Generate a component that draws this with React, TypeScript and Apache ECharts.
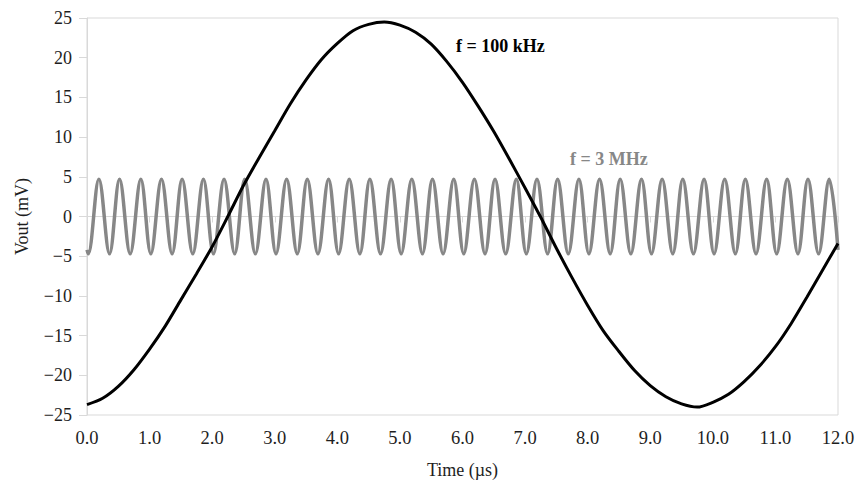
import React, { useEffect, useRef } from "react";
import * as echarts from "echarts";

// 100 kHz trace (black), every 0.25 µs
const slowTimes = [
  0, 0.25, 0.5, 0.75, 1, 1.25, 1.5, 1.75, 2, 2.25, 2.5, 2.75,
  3, 3.25, 3.5, 3.75, 4, 4.25, 4.5, 4.75, 5, 5.25, 5.5, 5.75,
  6, 6.25, 6.5, 6.75, 7, 7.25, 7.5, 7.75, 8, 8.25, 8.5, 8.75,
  9, 9.25, 9.5, 9.75, 10, 10.25, 10.5, 10.75, 11, 11.25, 11.5, 11.75, 12,
];
const slowValues = [
  -23.7, -22.9, -21.4, -19.3, -16.7, -13.8, -10.5, -7.2, -3.8, 0.0, 3.9, 7.4,
  10.8, 14.2, 17.2, 19.8, 21.8, 23.4, 24.2, 24.5, 24.1, 23.2, 21.7, 19.5,
  16.9, 13.9, 10.7, 7.2, 3.6, -0.1, -4.0, -7.7, -11.2, -14.4, -17.0, -19.4,
  -21.3, -22.7, -23.6, -24.0, -23.4, -22.4, -20.8, -18.8, -16.4, -13.5, -10.2, -6.8, -3.4,
];

// 3 MHz trace (gray): start, peaks/troughs, end
const fastTimes = [
  0,
  0.02, 0.19, 0.36, 0.52, 0.69, 0.86,
  1.02, 1.19, 1.36, 1.52, 1.69, 1.86,
  2.02, 2.19, 2.36, 2.52, 2.69, 2.86,
  3.02, 3.19, 3.36, 3.52, 3.69, 3.86,
  4.02, 4.19, 4.36, 4.52, 4.69, 4.86,
  5.02, 5.19, 5.36, 5.52, 5.69, 5.86,
  6.02, 6.19, 6.36, 6.52, 6.69, 6.86,
  7.02, 7.19, 7.36, 7.52, 7.69, 7.86,
  8.02, 8.19, 8.36, 8.52, 8.69, 8.86,
  9.02, 9.19, 9.36, 9.52, 9.69, 9.86,
  10.02, 10.19, 10.36, 10.52, 10.69, 10.86,
  11.02, 11.19, 11.36, 11.52, 11.69, 11.86,
  12,
];
const fastValues = [
  -4.2,
  -4.7, 4.7, -4.7, 4.7, -4.7, 4.7,
  -4.7, 4.7, -4.7, 4.7, -4.7, 4.7,
  -4.7, 4.7, -4.7, 4.7, -4.7, 4.7,
  -4.7, 4.7, -4.7, 4.7, -4.7, 4.7,
  -4.7, 4.7, -4.7, 4.7, -4.7, 4.7,
  -4.7, 4.7, -4.7, 4.7, -4.7, 4.7,
  -4.7, 4.7, -4.7, 4.7, -4.7, 4.7,
  -4.7, 4.7, -4.7, 4.7, -4.7, 4.7,
  -4.7, 4.7, -4.7, 4.7, -4.7, 4.7,
  -4.7, 4.7, -4.7, 4.7, -4.7, 4.7,
  -4.7, 4.7, -4.7, 4.7, -4.7, 4.7,
  -4.7, 4.7, -4.7, 4.7, -4.7, 4.7,
  -4.2,
];

const xMin = 0, xMax = 12, xStep = 1;
const yMin = -25, yMax = 25, yStep = 5;
const xTitle = "Time (µs)";
const yTitle = "Vout (mV)";
const slowLabel = "f = 100 kHz";
const fastLabel = "f = 3 MHz";

const FONT = "'Liberation Serif', 'DejaVu Serif', serif";
const GRAY = "#878787";
const AXIS = "#d9d9d9";
const TEXT = "#1e1e1e";

export default function App() {
  const ref = useRef<HTMLDivElement>(null);
  useEffect(() => {
    if (!ref.current) return;
    const chart = echarts.init(ref.current, undefined, { renderer: "svg" });
    chart.setOption({
      animation: false,
      backgroundColor: "#ffffff",
      grid: { left: 87, right: 23, top: 18, bottom: 64, show: true, borderColor: AXIS, borderWidth: 1 },
      xAxis: {
        type: "value",
        min: xMin, max: xMax, interval: xStep,
        name: xTitle, nameLocation: "middle", nameGap: 46,
        nameTextStyle: { fontFamily: FONT, fontSize: 18, color: TEXT },
        axisLine: { lineStyle: { color: AXIS, width: 1 } },
        axisTick: { show: true, length: 6, lineStyle: { color: AXIS } },
        splitLine: { show: false },
        axisLabel: { fontFamily: FONT, fontSize: 18.5, color: TEXT, margin: 13, formatter: (v: number) => v.toFixed(1) },
      },
      yAxis: {
        type: "value",
        min: yMin, max: yMax, interval: yStep,
        name: yTitle, nameLocation: "middle", nameGap: 56,
        nameTextStyle: { fontFamily: FONT, fontSize: 18, color: TEXT },
        axisLine: { show: true, lineStyle: { color: AXIS, width: 1 } },
        axisTick: { show: true, length: 8, lineStyle: { color: AXIS } },
        splitLine: { show: false },
        axisLabel: { fontFamily: FONT, fontSize: 18, color: TEXT, margin: 15, formatter: (v: number) => String(v).replace("-", "\u2212") },
      },
      series: [
        {
          type: "line",
          data: fastTimes.map((t, i) => [t, fastValues[i]]),
          showSymbol: false,
          smooth: 0.36,
          lineStyle: { color: GRAY, width: 3.5 },
          z: 2,
        },
        {
          type: "line",
          data: slowTimes.map((t, i) => [t, slowValues[i]]),
          showSymbol: false,
          smooth: 0.3,
          lineStyle: { color: "#000000", width: 3 },
          z: 3,
        },
      ],
      graphic: [
        { type: "text", left: 456, top: 37, style: { text: slowLabel, font: `bold 18px ${FONT}`, fill: "#000000" } },
        { type: "text", left: 570, top: 150, style: { text: fastLabel, font: `bold 18px ${FONT}`, fill: GRAY } },
      ],
    });
    return () => chart.dispose();
  }, []);
  return <div ref={ref} style={{ position: "fixed", left: 0, top: 0, width: 861, height: 484 }} />;
}
